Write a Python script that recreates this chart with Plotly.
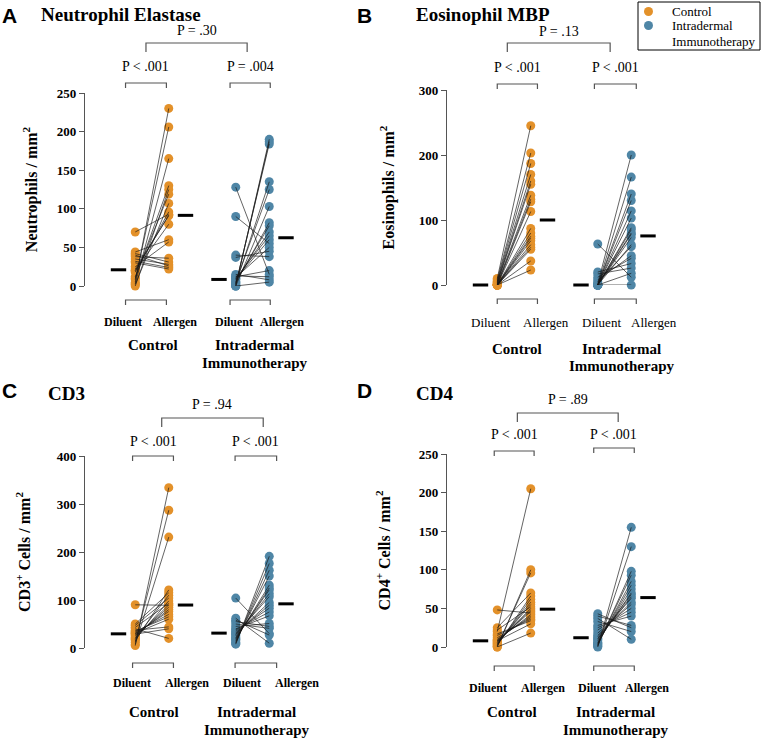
import numpy as np
import plotly.graph_objects as go
from plotly.subplots import make_subplots

W, H = 762, 739
ORANGE = "#E3912A"
BLUE = "#4F86A6"
SERIF = "Liberation Serif"
SANS = "Liberation Sans"

# x slots: control diluent, control allergen, IT diluent, IT allergen
slots = [0, 1, 3, 4]
group_names = ["Control", "Intradermal<br>Immunotherapy"]
legend_names = ["Control", "Intradermal<br>Immunotherapy"]
condition_names = ["Diluent", "Allergen"]

# --- data (paired per subject: diluent[i] <-> allergen[i]) ---
neut_ctrl_dil = [5, 8, 3, 10, 0, 12, 2, 18, 20, 70, 22, 20, 44, 25, 38, 42, 35, 40, 32, 30]
neut_ctrl_all = [230, 206, 165, 130, 125, 119, 107, 96, 92, 93, 91, 80, 60, 57, 36, 31, 28, 26, 24, 22]
neut_it_dil = [128, 90, 40, 37, 0, 1, 2, 3, 5, 0, 4, 6, 8, 10, 9, 11, 12, 13, 15, 0]
neut_it_all = [15, 55, 38, 45, 190, 187, 184, 135, 125, 103, 82, 78, 70, 65, 60, 50, 20, 12, 8, 5]

eos_ctrl_dil = [10, 8, 6, 5, 4, 3, 2, 1, 0, 0, 0, 0, 0, 0, 0, 0, 0, 0, 0, 0]
eos_ctrl_all = [245, 203, 187, 170, 160, 155, 138, 132, 128, 113, 87, 80, 75, 72, 68, 62, 58, 55, 37, 23]
eos_it_dil = [63, 20, 17, 12, 8, 5, 2, 0, 0, 0, 0, 0, 0, 0, 0, 0, 0, 0, 0, 0]
eos_it_all = [12, 33, 26, 41, 45, 59, 200, 166, 140, 130, 114, 103, 88, 85, 80, 78, 73, 62, 18, 0]

cd3_ctrl_dil = [90, 5, 12, 8, 15, 50, 20, 47, 18, 43, 22, 25, 27, 30, 33, 35, 31, 37, 29, 40]
cd3_ctrl_all = [89, 334, 287, 231, 121, 115, 110, 104, 98, 93, 90, 85, 80, 76, 70, 65, 60, 44, 40, 20]
cd3_it_dil = [104, 8, 10, 12, 15, 18, 20, 22, 25, 28, 30, 32, 35, 38, 40, 45, 50, 55, 58, 62]
cd3_it_all = [30, 191, 176, 162, 150, 131, 125, 121, 113, 107, 95, 89, 83, 75, 67, 51, 41, 45, 27, 10]

cd4_ctrl_dil = [48, 20, 0, 1, 25, 2, 3, 4, 5, 22, 6, 7, 8, 9, 10, 12, 15, 17, 8, 0]
cd4_ctrl_all = [44, 205, 100, 96, 70, 66, 62, 58, 55, 52, 50, 48, 46, 42, 40, 38, 36, 34, 30, 18]
cd4_it_dil = [43, 40, 0, 1, 2, 3, 4, 5, 6, 8, 10, 11, 13, 15, 18, 22, 25, 28, 33, 37]
cd4_it_all = [25, 28, 155, 130, 98, 93, 85, 80, 75, 70, 68, 65, 63, 58, 55, 50, 45, 40, 20, 10]

p_within = [["P < .001", "P = .004"], ["P < .001", "P < .001"],
            ["P < .001", "P < .001"], ["P < .001", "P < .001"]]
p_between = ["P = .30", "P = .13", "P = .94", "P = .89"]

U = 33.5  # px per x unit
XR = [-1.5, 5.5]

panels = [
    dict(letter="A", title="Neutrophil Elastase", ytitle="Neutrophils / mm<sup>2</sup>",
         data=[(neut_ctrl_dil, neut_ctrl_all), (neut_it_dil, neut_it_all)],
         ymax=250, dtick=50, x0=85, ytop=93, ybot=286, lx=9, ly=15, tx=40, ty=14, standoff=15,
         br=[(-0.29, 0.93), (2.83, 4.03)], br_y=[83, 83], pl_y=67, big=(0.32, 3.34), big_y=43, bl_y=30,
         bot_y=300, dil_y=322, grp_y=345, bold_cond=True,
         cond_x=[-0.37, 1.18, 2.94, 4.38], grp_x=[0.52, 3.56]),
    dict(letter="B", title="Eosinophil MBP", ytitle="Eosinophils / mm<sup>2</sup>",
         data=[(eos_ctrl_dil, eos_ctrl_all), (eos_it_dil, eos_it_all)],
         ymax=300, dtick=100, x0=447, ytop=90, ybot=285, lx=364, ly=15, tx=415, ty=14, standoff=20,
         br=[(0.0, 1.2), (2.9, 4.15)], br_y=[84, 84], pl_y=68, big=(0.3, 3.37), big_y=43, bl_y=31,
         bot_y=299, dil_y=322, grp_y=349, bold_cond=False,
         cond_x=[-0.19, 1.45, 3.1, 4.68], grp_x=[0.6, 3.72]),
    dict(letter="C", title="CD3", ytitle="CD3<sup>+</sup> Cells / mm<sup>2</sup>",
         data=[(cd3_ctrl_dil, cd3_ctrl_all), (cd3_it_dil, cd3_it_all)],
         ymax=400, dtick=100, x0=85, ytop=456, ybot=648, lx=9, ly=390, tx=47, ty=393, standoff=22,
         br=[(-0.08, 1.14), (2.98, 4.22)], br_y=[456, 456], pl_y=441, big=(0.79, 3.82), big_y=418, bl_y=404,
         bot_y=663, dil_y=683, grp_y=712, bold_cond=True,
         cond_x=[-0.11, 1.54, 3.19, 4.82], grp_x=[0.55, 3.63]),
    dict(letter="D", title="CD4", ytitle="CD4<sup>+</sup> Cells / mm<sup>2</sup>",
         data=[(cd4_ctrl_dil, cd4_ctrl_all), (cd4_it_dil, cd4_it_all)],
         ymax=250, dtick=50, x0=447, ytop=454, ybot=647, lx=364, ly=390, tx=415, ty=393, standoff=24,
         br=[(-0.09, 1.1), (2.88, 4.09)], br_y=[451, 448], pl_y=435, big=(0.6, 3.61), big_y=413, bl_y=399,
         bot_y=666, dil_y=688, grp_y=712, bold_cond=True,
         cond_x=[-0.28, 1.37, 2.98, 4.47], grp_x=[0.43, 3.54]),
]


def py(p):
    return 1 - p / H


def label(x, y, text, size, weight="normal", family=SERIF, xanchor="center", yanchor="middle"):
    return dict(x=x, y=y, xref="paper", yref="paper", text=text, showarrow=False,
                xanchor=xanchor, yanchor=yanchor, borderpad=0,
                font=dict(family=family, size=size, color="black", weight=weight))


fig = make_subplots(rows=2, cols=2)
shapes = []
annotations = []
colors = [ORANGE, BLUE]

for i, pn in enumerate(panels):
    row, col = i // 2 + 1, i % 2 + 1

    def px(xv, pn=pn):
        return (pn["x0"] + (xv - XR[0]) * U) / W

    for g, (dil, alg) in enumerate(pn["data"]):
        xd, xa = slots[2 * g], slots[2 * g + 1]
        n = len(dil)
        fig.add_trace(go.Scatter(
            x=[xd] * n + [xa] * n, y=list(dil) + list(alg), mode="markers",
            marker=dict(color=colors[g], size=9, line_width=0),
            name=legend_names[g], showlegend=False, cliponaxis=False), row=row, col=col)
        lx, ly = [], []
        for a, b in zip(dil, alg):
            lx += [xd, xa, None]
            ly += [a, b, None]
        fig.add_trace(go.Scatter(
            x=lx, y=ly, mode="lines", line=dict(color="rgba(25,25,25,0.85)", width=0.8),
            showlegend=False, cliponaxis=False, hoverinfo="skip"), row=row, col=col)
        fig.add_trace(go.Scatter(
            x=[xd - 0.5, xa + 0.5], y=[np.median(dil), np.median(alg)], mode="markers",
            marker=dict(symbol="line-ew", size=11, line=dict(width=3, color="black")),
            showlegend=False, cliponaxis=False), row=row, col=col)

        # labels under each group
        fw = "bold" if pn["bold_cond"] else "normal"
        fs = 12 if pn["bold_cond"] else 13
        for k in range(2):
            annotations.append(label(px(pn["cond_x"][2 * g + k]), py(pn["dil_y"]),
                                     condition_names[k], fs, fw))
        for j, line in enumerate(group_names[g].split("<br>")):
            annotations.append(label(px(pn["grp_x"][g]), py(pn["grp_y"] + 17.5 * j), line, 15, "bold"))

        # brackets
        x1, x2 = pn["br"][g]
        for yb in [pn["br_y"][g], pn["bot_y"]]:
            shapes.append(dict(
                type="path", xref="paper", yref="paper",
                path=f"M {px(x1)},{py(yb + 5)} L {px(x1)},{py(yb)} L {px(x2)},{py(yb)} L {px(x2)},{py(yb + 5)}",
                line=dict(color="#555555", width=1.2)))
        annotations.append(label(px((x1 + x2) / 2), py(pn["pl_y"]), p_within[i][g], 14))

    b1, b2 = pn["big"]
    by = pn["big_y"]
    shapes.append(dict(
        type="path", xref="paper", yref="paper",
        path=f"M {px(b1)},{py(by + 9)} L {px(b1)},{py(by)} L {px(b2)},{py(by)} L {px(b2)},{py(by + 9)}",
        line=dict(color="#555555", width=1.2)))
    annotations.append(label(px((b1 + b2) / 2), py(pn["bl_y"]), p_between[i], 14))

    annotations.append(label(pn["lx"] / W, py(pn["ly"]), pn["letter"], 21, "bold", family=SANS))
    annotations.append(label(pn["tx"] / W, py(pn["ty"]), pn["title"], 19, "bold", xanchor="left"))

    fig.update_xaxes(domain=[pn["x0"] / W, (pn["x0"] + (XR[1] - XR[0]) * U) / W],
                     range=XR, visible=False, automargin=False, row=row, col=col)
    fig.update_yaxes(domain=[py(pn["ybot"]), py(pn["ytop"])], range=[0, pn["ymax"]],
                     dtick=pn["dtick"], showgrid=False, zeroline=False, automargin=False,
                     showline=True, linecolor="#555555", linewidth=1.2,
                     ticks="outside", ticklen=5, tickcolor="#555555", tickwidth=1.2,
                     tickfont=dict(family=SERIF, size=13, color="black", weight="bold"),
                     title=dict(text=pn["ytitle"], standoff=pn["standoff"],
                                font=dict(family=SERIF, size=16, color="black", weight="bold")),
                     row=row, col=col)

# legend box (top right)
shapes.append(dict(type="rect", xref="paper", yref="paper",
                   x0=638 / W, x1=760 / W, y0=py(50), y1=py(2),
                   line=dict(color="black", width=1), fillcolor="white"))
for g, yy in enumerate([11.5, 25.5]):
    shapes.append(dict(type="circle", xref="paper", yref="paper",
                       xsizemode="pixel", ysizemode="pixel",
                       xanchor=648.5 / W, yanchor=py(yy), x0=-4.5, x1=4.5, y0=-4.5, y1=4.5,
                       fillcolor=colors[g], line_width=0))
    for j, line in enumerate(legend_names[g].split("<br>")):
        annotations.append(label(671 / W, py(yy + 16 * j), line, 13, xanchor="left"))

fig.update_layout(
    width=W, height=H, margin=dict(l=0, r=0, t=0, b=0, autoexpand=False),
    plot_bgcolor="white", paper_bgcolor="white",
    shapes=shapes, annotations=annotations, showlegend=False,
)

fig.write_html("out.html", config={"displayModeBar": False},
               post_script="document.body.style.margin = '0';")
